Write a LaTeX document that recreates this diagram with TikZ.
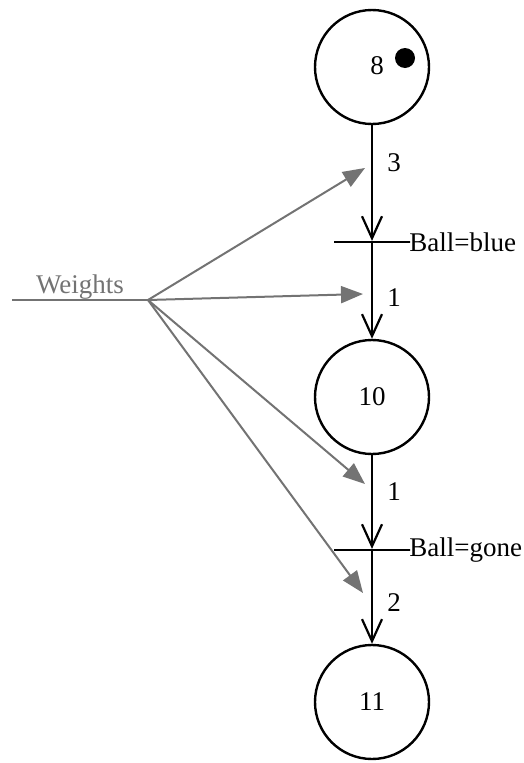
\documentclass[tikz,border=0pt]{standalone}
\usepackage{fontspec}
\setmainfont{Liberation Serif}
\usetikzlibrary{arrows.meta, positioning}
\definecolor{wgray}{RGB}{115,115,115}

\begin{document}
\begin{tikzpicture}[x=1pt, y=-1pt,
    font=\fontsize{27}{31}\selectfont,
    place/.style={draw, circle, line width=2.4pt, minimum size=114pt, inner sep=0pt},
    bar/.style={draw, line width=2.2pt, minimum width=76pt, minimum height=0pt, inner sep=0pt},
    flow/.style={line width=2.4pt, -{Straight Barb[length=22pt, width=20pt, line width=2.2pt]}},
    weight/.style={wgray, line width=2pt, -{Triangle[length=22pt, width=17pt]}}]
    \useasboundingbox (0,0) rectangle (523,763);

    % places and transitions
    \node[place] (p8) at (372,67) {};
    \node at (377,66) {8};
    \fill (405,58) circle (10pt);
    \node[bar] (t1) at (372,242) {};
    \node[inner sep=0pt, right=-2pt of t1] (g1) {Ball=blue};
    \node[place] (p10) at (372,397) {10};
    \node[bar] (t2) at (372,550) {};
    \node[inner sep=0pt, right=-2pt of t2] (g2) {Ball=gone};
    \node[place] (p11) at (372,702) {11};

    \draw[flow] (p8) -- (t1);
    \draw[flow] (t1) -- (p10);
    \draw[flow] (p10) -- (t2);
    \draw[flow] (t2) -- (p11);

    % arc weights
    \node (w1) at (394,163) {3};
    \node (w2) at (394,298) {1};
    \node (w3) at (394,492) {1};
    \node (w4) at (394,603) {2};

    \coordinate (w0) at (12,300);
    \coordinate (fan) at (148,300);
    \coordinate (a1) at (365,168);
    \coordinate (a2) at (363,294);
    \coordinate (a3) at (365,484);
    \coordinate (a4) at (363,593);
    \draw[wgray, line width=2pt] (w0) -- (fan) node[midway, above, inner sep=0pt] (wl) {Weights};
    \foreach \t in {a1,a2,a3,a4}
        \draw[weight] (fan) -- (\t);
\end{tikzpicture}
\end{document}
